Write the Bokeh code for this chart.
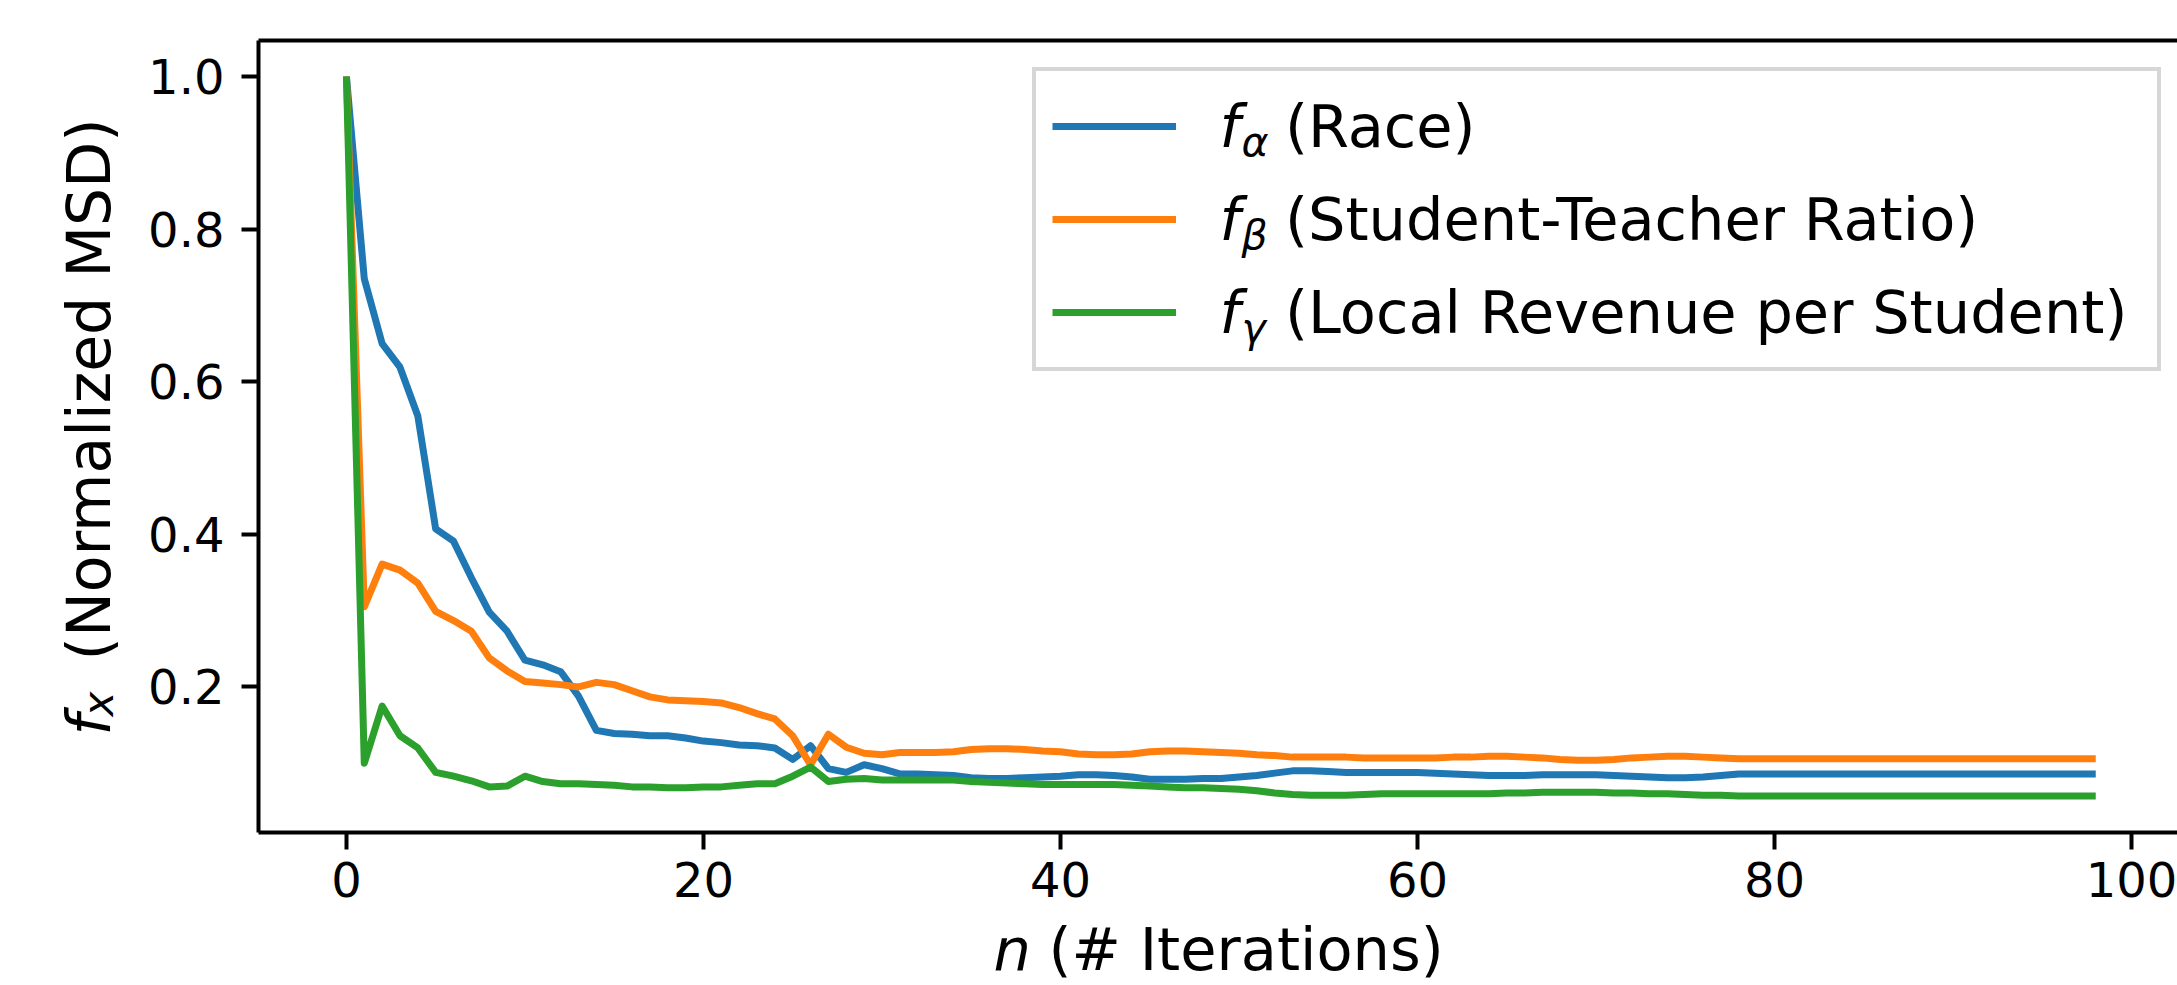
from math import pi
from bokeh.plotting import figure
from bokeh.models import (Range1d, FixedTicker, LinearAxis, Legend, LegendItem,
                          Label, NumeralTickFormatter)
from bokeh.embed import file_html
from bokeh.resources import INLINE

# ---------------- data ----------------
iterations = list(range(99))

race = [1.0, 0.735, 0.65, 0.619, 0.555, 0.407, 0.391, 0.343, 0.298, 0.273,
        0.235, 0.229, 0.22, 0.188, 0.143, 0.139, 0.138, 0.136, 0.136, 0.133,
        0.129, 0.127, 0.124, 0.123, 0.12, 0.105, 0.123, 0.093, 0.088, 0.098,
        0.093, 0.086, 0.086, 0.085, 0.084, 0.081, 0.080, 0.080, 0.081, 0.082,
        0.083, 0.085, 0.085, 0.084, 0.082, 0.079, 0.079, 0.079, 0.080, 0.080,
        0.082, 0.084, 0.087, 0.090, 0.090, 0.089, 0.088, 0.088, 0.088, 0.088,
        0.088, 0.087, 0.086, 0.085, 0.084, 0.084, 0.084, 0.085, 0.085, 0.085,
        0.085, 0.084, 0.083, 0.082, 0.081, 0.081, 0.082, 0.084, 0.086, 0.086,
        0.086, 0.086, 0.086, 0.086, 0.086, 0.086, 0.086, 0.086, 0.086, 0.086,
        0.086, 0.086, 0.086, 0.086, 0.086, 0.086, 0.086, 0.086, 0.086]

ratio = [1.0, 0.305, 0.361, 0.353, 0.336, 0.299, 0.287, 0.273, 0.238, 0.221,
         0.207, 0.205, 0.203, 0.200, 0.206, 0.203, 0.195, 0.187, 0.183, 0.182,
         0.181, 0.179, 0.173, 0.165, 0.158, 0.136, 0.098, 0.138, 0.121, 0.113,
         0.111, 0.114, 0.114, 0.114, 0.115, 0.118, 0.119, 0.119, 0.118, 0.116,
         0.115, 0.112, 0.111, 0.111, 0.112, 0.115, 0.116, 0.116, 0.115, 0.114,
         0.113, 0.111, 0.110, 0.108, 0.108, 0.108, 0.108, 0.107, 0.107, 0.107,
         0.107, 0.107, 0.108, 0.108, 0.109, 0.109, 0.108, 0.107, 0.105, 0.104,
         0.104, 0.105, 0.107, 0.108, 0.109, 0.109, 0.108, 0.107, 0.106, 0.106,
         0.106, 0.106, 0.106, 0.106, 0.106, 0.106, 0.106, 0.106, 0.106, 0.106,
         0.106, 0.106, 0.106, 0.106, 0.106, 0.106, 0.106, 0.106, 0.106]

revenue = [1.0, 0.100, 0.175, 0.136, 0.120, 0.088, 0.083, 0.077, 0.069, 0.070,
           0.083, 0.076, 0.073, 0.073, 0.072, 0.071, 0.069, 0.069, 0.068, 0.068,
           0.069, 0.069, 0.071, 0.073, 0.073, 0.083, 0.095, 0.076, 0.079, 0.080,
           0.078, 0.078, 0.078, 0.078, 0.078, 0.076, 0.075, 0.074, 0.073, 0.072,
           0.072, 0.072, 0.072, 0.072, 0.071, 0.070, 0.069, 0.068, 0.068, 0.067,
           0.066, 0.064, 0.061, 0.059, 0.058, 0.058, 0.058, 0.059, 0.060, 0.060,
           0.060, 0.060, 0.060, 0.060, 0.060, 0.061, 0.061, 0.062, 0.062, 0.062,
           0.062, 0.061, 0.061, 0.060, 0.060, 0.059, 0.058, 0.058, 0.057, 0.057,
           0.057, 0.057, 0.057, 0.057, 0.057, 0.057, 0.057, 0.057, 0.057, 0.057,
           0.057, 0.057, 0.057, 0.057, 0.057, 0.057, 0.057, 0.057, 0.057]

series_values = [race, ratio, revenue]
series_colors = ["#1f77b4", "#ff7f0e", "#2ca02c"]
legend_labels = ["(Race)", "(Student-Teacher Ratio)", "(Local Revenue per Student)"]
legend_subscripts = ["\u03b1", "\u03b2", "\u03b3"]
x_ticks = [0, 20, 40, 60, 80, 100]
y_ticks = [0.2, 0.4, 0.6, 0.8, 1.0]

FONT = "DejaVu Sans"
LABEL_PX = 59
TICK_PX = "48px"

W, H = 2177, 985
# axes box (spines) in data units
X_LEFT, X_RIGHT = -4.93, 102.58
Y_BOTTOM, Y_TOP = 0.0092, 1.0472

# ---------------- figure ----------------
p = figure(width=W, height=H,
           x_range=Range1d(-19.38, 102.58), y_range=Range1d(-0.1913, 1.0996),
           output_backend="svg", toolbar_location=None,
           min_border_left=0, min_border_right=0,
           min_border_top=0, min_border_bottom=0)
p.background_fill_color = "white"
p.border_fill_color = "white"
p.outline_line_color = None
p.xgrid.visible = False
p.ygrid.visible = False

for ax in (p.xaxis[0], p.yaxis[0]):
    ax.axis_line_width = 4
    ax.axis_line_color = "black"
    ax.major_tick_line_width = 4
    ax.major_tick_line_color = "black"
    ax.major_tick_out = 17
    ax.major_tick_in = 0
    ax.minor_tick_line_color = None
    ax.major_label_text_font = FONT
    ax.major_label_text_font_size = TICK_PX
    ax.major_label_text_color = "black"

p.xaxis[0].ticker = FixedTicker(ticks=x_ticks)
p.yaxis[0].ticker = FixedTicker(ticks=y_ticks)
p.xaxis[0].formatter = NumeralTickFormatter(format="0")
p.yaxis[0].formatter = NumeralTickFormatter(format="0.0")
p.xaxis[0].major_label_standoff = 12
p.yaxis[0].major_label_standoff = 17
p.xaxis[0].fixed_location = Y_BOTTOM
p.yaxis[0].fixed_location = X_LEFT
p.xaxis[0].bounds = (X_LEFT, X_RIGHT)
p.yaxis[0].bounds = (Y_BOTTOM, Y_TOP)

# top spine
top = LinearAxis(ticker=FixedTicker(ticks=[]), axis_line_width=4,
                 axis_line_color="black", major_tick_line_color=None,
                 minor_tick_line_color=None, major_label_text_font_size="0px",
                 fixed_location=Y_TOP, bounds=(X_LEFT, X_RIGHT))
p.add_layout(top, "above")

renderers = []
for vals, col in zip(series_values, series_colors):
    r = p.line(iterations, vals, line_color=col, line_width=7, line_join="round")
    renderers.append(r)

legend = Legend(items=[LegendItem(label=lab, renderers=[r])
                       for lab, r in zip(legend_labels, renderers)],
                location=(1032, 614), margin=0, padding=16, spacing=15,
                glyph_width=124, glyph_height=78, label_height=78,
                label_width=856, label_standoff=109,
                label_text_font=FONT, label_text_font_size=f"{LABEL_PX}px",
                label_text_color="black",
                border_line_color="#cccccc", border_line_alpha=0.8,
                border_line_width=4,
                background_fill_color="white", background_fill_alpha=0.0)
p.add_layout(legend)

def add_text(x, y, text, size=f"{LABEL_PX}px", italic=False, angle=0.0,
             baseline="alphabetic"):
    lab = Label(x=x, y=y, x_units="screen", y_units="screen", text=text,
                angle=angle, text_font=FONT,
                text_font_style="italic" if italic else "normal",
                text_font_size=size, text_baseline=baseline, text_color="black")
    p.add_layout(lab)

# math parts of the legend labels (f with greek subscripts)
item_centers = [H - 126, H - 219, H - 312]
for yc, sub in zip(item_centers, legend_subscripts):
    add_text(1219, yc, "f", italic=True, baseline="middle")
    add_text(1241, yc - 15, sub, size="41px", italic=True, baseline="middle")

# x axis label: n (# Iterations)
add_text(993, 36, "n", italic=True)
add_text(1048, 36, "(# Iterations)")

# y axis label: f_x (Normalized MSD)
add_text(88, H - 735, "f", size="60px", italic=True, angle=pi / 2)
add_text(98, H - 716, "x", size="42px", italic=True, angle=pi / 2)
add_text(88, H - 660, "(Normalized MSD)", size="60px", angle=pi / 2)

open("out.html", "w").write(file_html(p, INLINE))
